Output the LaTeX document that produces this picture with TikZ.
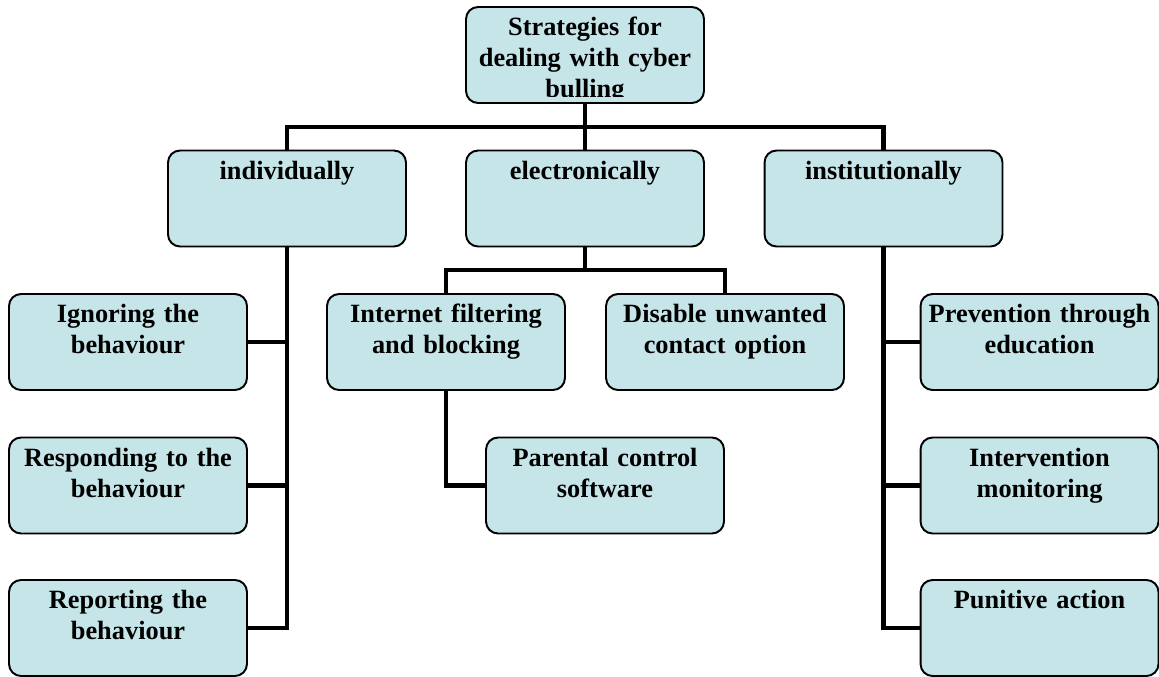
\documentclass[tikz,border=0pt]{standalone}
\usepackage{fontspec}
\setmainfont{Liberation Serif}
\usepackage{tikz}
\usetikzlibrary{shapes}
\definecolor{boxblue}{RGB}{197,229,232}
\tikzstyle{box}=[rectangle,draw=black,line width=1.1pt,rounded corners=0.24cm,fill=boxblue,minimum width=4.76cm,minimum height=1.92cm,inner sep=0pt]
\tikzstyle{box text}=[anchor=north,inner sep=0pt,text width=4.7cm,align=center,text height=0.59cm,font=\bfseries\fontsize{15}{17.6}\selectfont]
\tikzstyle{branch} = [draw,line width=2.8pt,-]

\begin{document}
\begin{tikzpicture}[x=0.02cm,y=-0.02cm]
        \useasboundingbox (0,0) rectangle (1159,676);
        \node[box] (root) at (585,55) {};
        \begin{scope}
          \clip (root.north west) rectangle ([yshift=0.14cm]root.south east);
          \node[box text] at (root.north) {Strategies for\\dealing with cyber\\bulling};
        \end{scope}
        \node[box,label={[box text]north:individually}] (ind) at (287,198.5) {};
        \node[box,label={[box text]north:electronically}] (elec) at (585,198.5) {};
        \node[box,label={[box text]north:institutionally}] (inst) at (883.5,198.5) {};
        \node[box,label={[box text]north:Ignoring the\\behaviour}] (ign) at (128,342) {};
        \node[box,label={[box text]north:Responding to the\\behaviour}] (resp) at (128,485.5) {};
        \node[box,label={[box text]north:Reporting the\\behaviour}] (rep) at (128,628) {};
        \node[box,label={[box text]north:Internet filtering\\and blocking}] (inet) at (446,342) {};
        \node[box,label={[box text]north:Disable unwanted\\contact option}] (dis) at (725,342) {};
        \node[box,label={[box text]north:Parental control\\software}] (par) at (605,485.5) {};
        \node[box,label={[box text]north:Prevention through\\education}] (prev) at (1039.5,342) {};
        \node[box,label={[box text]north:Intervention\\monitoring}] (int) at (1039.5,485.5) {};
        \node[box,label={[box text]north:Punitive action}] (pun) at (1039.5,628) {};
        \coordinate (top bus) at (585,127);
        \coordinate (elec bus) at (585,270);
        \draw[branch] (root) -- (elec);
        \draw[branch] (ind.north) |- (top bus) -| (inst.north);
        \draw[branch] (ind.south) |- (ign.east);
        \draw[branch] (ind.south) |- (resp.east);
        \draw[branch] (ind.south) |- (rep.east);
        \draw[branch] (elec.south) -- (elec bus);
        \draw[branch] (inet.north) |- (elec bus) -| (dis.north);
        \draw[branch] (inet.south) |- (par.west);
        \draw[branch] (inst.south) |- (prev.west);
        \draw[branch] (inst.south) |- (int.west);
        \draw[branch] (inst.south) |- (pun.west);
      \end{tikzpicture}
\end{document}
